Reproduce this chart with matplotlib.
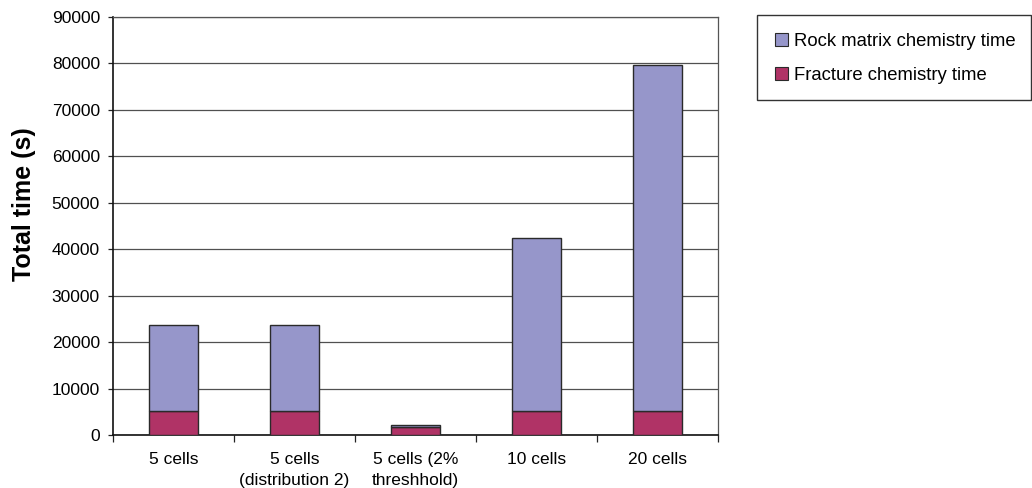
import matplotlib
matplotlib.use("Agg")
import matplotlib.pyplot as plt
from matplotlib.patches import Rectangle, Patch
import numpy as np

plt.rcParams["font.family"] = ["Liberation Sans", "DejaVu Sans"]

categories = ["5 cells", "5 cells\n(distribution 2)", "5 cells (2%\nthreshhold)",
              "10 cells", "20 cells"]
fracture_time = [5100, 5100, 1800, 5100, 5100]
rock_matrix_time = [18650, 18650, 400, 37400, 74500]
y_ticks = list(range(0, 90001, 10000))

rock_color = "#9696CA"
frac_color = "#B03366"
edge_color = "#2a2a2a"

fig = plt.figure(figsize=(10.32, 4.88), dpi=100)
ax = fig.add_axes([113 / 1032, 1 - 435 / 488, 605 / 1032, 418 / 488])

x = np.arange(len(categories))
ax.bar(x, fracture_time, width=0.4, color=frac_color, edgecolor=edge_color,
       linewidth=1.0, zorder=3)
ax.bar(x, rock_matrix_time, width=0.4, bottom=fracture_time, color=rock_color,
       edgecolor=edge_color, linewidth=1.0, zorder=3)

ax.set_xlim(-0.5, len(categories) - 0.5)
ax.set_ylim(0, 90000)
ax.set_yticks(y_ticks)
ax.set_yticklabels([str(v) for v in y_ticks], fontsize=12.5)
ax.yaxis.grid(True, color="#505050", linewidth=0.9, zorder=0)
ax.set_axisbelow(True)

# category labels in the middle, tick marks on the boundaries
ax.set_xticks(x)
ax.set_xticklabels(categories, fontsize=12.5, linespacing=1.5)
ax.tick_params(axis="x", which="major", length=0, pad=12.5)
ax.set_xticks(np.arange(len(categories) + 1) - 0.5, minor=True)
ax.tick_params(axis="x", which="minor", length=4.7, width=0.9, color="#222222")
ax.tick_params(axis="y", length=3.6, width=0.9, color="#222222", pad=5.8)

ax.set_ylabel("Total time (s)", fontsize=18, fontweight="bold")
ax.yaxis.set_label_coords(-0.127, 0.553)

for side in ["left", "bottom"]:
    ax.spines[side].set_color("#111111")
    ax.spines[side].set_linewidth(1.2)
for side in ["top", "right"]:
    ax.spines[side].set_color("#555555")
    ax.spines[side].set_linewidth(0.9)

# legend frame
fig.patches.append(Rectangle((757 / 1032, 1 - 100 / 488), 274 / 1032, 85 / 488,
                             transform=fig.transFigure, facecolor="white",
                             edgecolor="#333333", linewidth=1.0))
handles = [Patch(facecolor=rock_color, edgecolor=edge_color, linewidth=0.8),
           Patch(facecolor=frac_color, edgecolor=edge_color, linewidth=0.8)]
fig.legend(handles, ["Rock matrix chemistry time", "Fracture chemistry time"],
           loc="center left", bbox_to_anchor=(775 / 1032, 1 - 58.5 / 488),
           frameon=False, fontsize=13.3, handlelength=0.68, handleheight=0.68,
           handletextpad=0.35, labelspacing=0.95, borderpad=0, borderaxespad=0)

fig.savefig("out.png", dpi=100, facecolor="white")
